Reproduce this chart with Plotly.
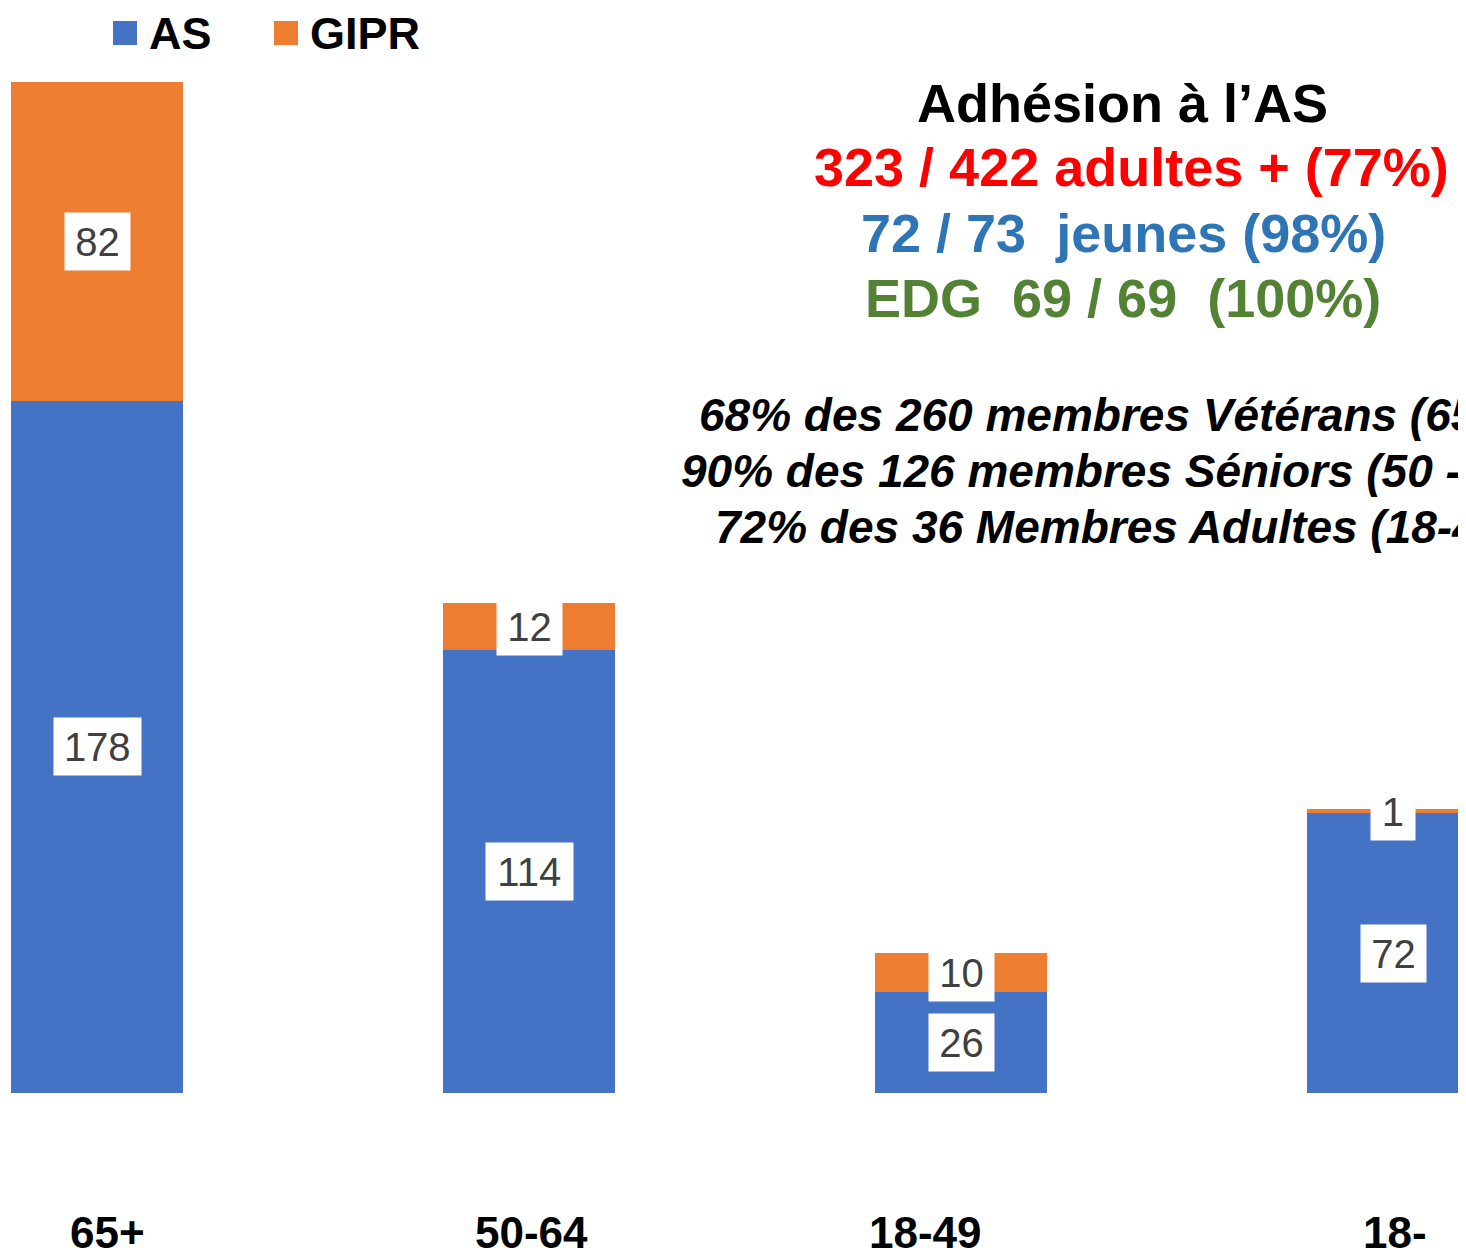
import plotly.graph_objects as go

# Données
categories = ["65+", "50-64", "18-49", "18-"]
as_values = [178, 114, 26, 72]
gipr_values = [82, 12, 10, 1]

AS_COLOR = "#4472C4"
GIPR_COLOR = "#ED7D31"
FONT = "Arial, Liberation Sans, sans-serif"

# the page body has an 8px margin, so the figure is a bit smaller than the window
OFF = 8
W, H = 1466 - OFF, 1250 - OFF
TOP, BOTTOM = 60 - OFF, 1093 - OFF  # plot area rows inside the figure


def py(page_y):
    """Page pixel row -> paper y."""
    return (BOTTOM - (page_y - OFF)) / (BOTTOM - TOP)


def px(page_x):
    return (page_x - OFF) / W


xs = list(range(len(categories)))

fig = go.Figure()
fig.add_trace(go.Bar(x=xs, y=as_values, name="AS", marker_color=AS_COLOR,
                     marker_line_width=0, showlegend=False, hoverinfo="skip"))
fig.add_trace(go.Bar(x=xs, y=gipr_values, name="GIPR", marker_color=GIPR_COLOR,
                     marker_line_width=0, showlegend=False, hoverinfo="skip"))

annotations = []

# data labels in white boxes
for i, (a, g) in enumerate(zip(as_values, gipr_values)):
    for base, val in ((0, a), (a, g)):
        txt = str(val)
        annotations.append(dict(
            x=i, y=base + val / 2, xref="x", yref="y", text=txt, showarrow=False,
            font=dict(family=FONT, size=40, color="#404040"),
            bgcolor="white", borderpad=0, width=21.5 * len(txt) + 22, height=57,
        ))

# category labels
label_shift = [10, 2, -36, 2]
for i, c in enumerate(categories):
    annotations.append(dict(
        x=i, y=0, xref="x", yref="y", text=f"<b>{c}</b>", showarrow=False,
        yanchor="middle", yshift=-139, xshift=label_shift[i],
        font=dict(family=FONT, size=44, color="black"),
    ))

# legend (drawn by hand)
shapes = []
for sq_x, color, name in ((113, AS_COLOR, "AS"), (274, GIPR_COLOR, "GIPR")):
    shapes.append(dict(type="rect", xref="paper", yref="paper",
                       x0=px(sq_x), x1=px(sq_x + 24), y0=py(45), y1=py(21),
                       fillcolor=color, line_width=0))
    annotations.append(dict(
        x=px(sq_x + 34), y=py(33), xref="paper", yref="paper", text=f"<b>{name}</b>",
        showarrow=False, xanchor="left", yanchor="middle",
        font=dict(family=FONT, size=45, color="black"),
    ))

# right-hand text block
summary = [
    ("Adhésion à l’AS", "black", 1122, 103),
    ("323 / 422 adultes + (77%)", "#FF0000", 1131, 167),
    ("72 / 73  jeunes (98%)", "#2E75B6", 1123, 233),
    ("EDG  69 / 69  (100%)", "#548235", 1123, 298),
]
for txt, color, cx, cy in summary:
    annotations.append(dict(
        x=px(cx), y=py(cy), xref="paper", yref="paper",
        text=f"<b>{txt.replace('  ', '&nbsp; ')}</b>", showarrow=False,
        xanchor="center", yanchor="middle",
        font=dict(family=FONT, size=54, color=color),
    ))

details = [
    ("68% des 260 membres Vétérans (65+)", 697, 415),
    ("90% des 126 membres Séniors (50 - 64)", 679, 471),
    ("72% des 36 Membres Adultes (18-49)", 713, 527),
]
for txt, lx, cy in details:
    annotations.append(dict(
        x=px(lx), y=py(cy), xref="paper", yref="paper",
        text=f"<b><i>{txt}</i></b>", showarrow=False,
        xanchor="left", yanchor="middle",
        font=dict(family=FONT, size=46, color="black"),
    ))

fig.update_layout(
    barmode="stack",
    bargap=0.602,
    width=W,
    height=H,
    margin=dict(l=0, r=0, t=TOP, b=H - BOTTOM, pad=0),
    paper_bgcolor="white",
    plot_bgcolor="white",
    xaxis=dict(range=[(OFF - 97) / 432, 3 + (1466 - 1393) / 432], showgrid=False,
               zeroline=False, showticklabels=False, showline=False, fixedrange=True),
    yaxis=dict(range=[0, (BOTTOM - TOP) / 3.888], showgrid=False, zeroline=False,
               showticklabels=False, showline=False, fixedrange=True),
    annotations=annotations,
    shapes=shapes,
    showlegend=False,
)

fig.write_html("out.html", config={"displayModeBar": False})
